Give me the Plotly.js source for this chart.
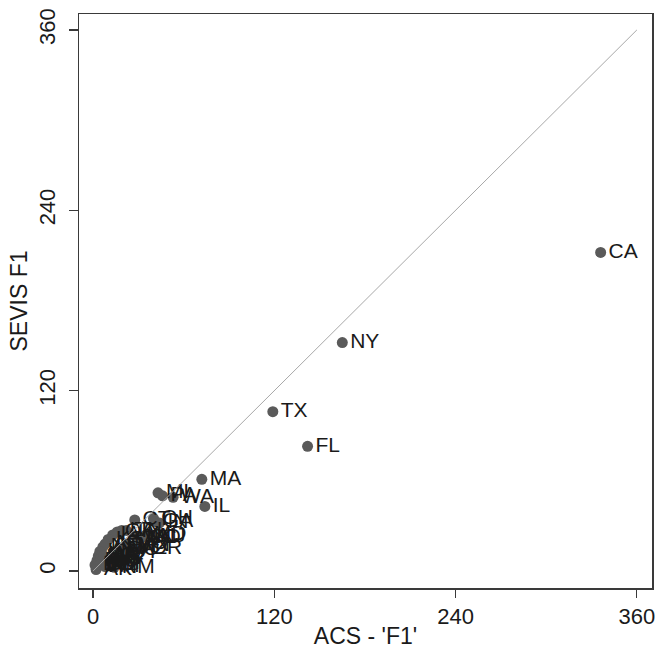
<!DOCTYPE html>
<html>
<head>
<meta charset="utf-8">
<script src="https://cdn.plot.ly/plotly-3.0.1.min.js"></script>
<style>html,body{margin:0;padding:0;background:#fff;}#chart{width:659px;height:654px;}</style>
</head>
<body>
<div id="chart"></div>
<script>
// State labels, ACS 'F1' count (thousands) and SEVIS F1 count (thousands)
var states = ["CA","NY","FL","TX","IL","MA","WA","PA","MI","OH","GA","IN","NJ","MD","CO","VA","NC","AZ","OR","MN","WI","MO","UT","NM",
              "CT","IA","KS","OK","NE","LA","AL","TN","KY","SC","RI","DE","NH","VT","ME","WV","MS","AR","ID","NV","MT","WY","ND","SD","HI","AK","DC"];
var acs   = [336,165,142,119,74,72,53,46,43,40,41,44,39,35,32,28,30,26,33,24,20,22,20,14,
             27.6,13,10,16,6.5,19,8,22,4.5,3.5,2.6,1.3,5,2,3,6,5,7,4,10,8,3,6,4,12,2,18];
var sevis = [212,152,83,106,43,61,49,50,52,35,33,32,23,24,22,23,22,15,15,17,16,18,12,2.5,
             34,24,21,26,16,27,18,27,13,10,7,4,9,3,4,11,8,10,6,8,3,5,7,4,5,1,14];
var refX = [0,360];
var refY = [0,360];
var xTicks = [0,120,240,360];
var yTicks = [0,120,240,360];

var font = "Liberation Sans, Arial, sans-serif";
var traces = [
  {
    x: acs, y: sevis, text: states, type: "scatter", mode: "markers+text",
    textposition: "middle right",
    marker: {color: "#5a5a5a", size: 11},
    textfont: {family: font, size: 21, color: "#1a1a1a"},
    hoverinfo: "none", cliponaxis: false
  },
  {
    x: refX, y: refY, type: "scatter", mode: "lines",
    line: {color: "#a8a8a8", width: 1}, hoverinfo: "none"
  }
];
var layout = {
  width: 659, height: 654,
  margin: {l: 79, r: 7, t: 14, b: 66},
  paper_bgcolor: "#fff", plot_bgcolor: "#fff",
  showlegend: false,
  font: {family: font, size: 22, color: "#1a1a1a"},
  xaxis: {
    range: [-9.3, 370], tickvals: xTicks, ticktext: xTicks.map(String),
    showgrid: false, zeroline: false, showline: true, mirror: true,
    linecolor: "#3a3a3a", linewidth: 1.5,
    ticks: "outside", ticklen: 8, tickwidth: 1.2, tickcolor: "#3a3a3a",
    tickfont: {family: font, size: 22, color: "#1a1a1a"},
    title: {text: "ACS - 'F1'", font: {family: font, size: 23, color: "#1a1a1a"}, standoff: 0}
  },
  yaxis: {
    range: [-11.3, 370.6], tickvals: yTicks, ticktext: yTicks.map(String),
    showgrid: false, zeroline: false, showline: true, mirror: true,
    linecolor: "#3a3a3a", linewidth: 1.5,
    ticks: "outside", ticklen: 9, tickwidth: 1.2, tickcolor: "#3a3a3a",
    tickangle: -90, ticklabelstandoff: 5,
    tickfont: {family: font, size: 22, color: "#1a1a1a"},
    title: {text: "SEVIS F1", font: {family: font, size: 23, color: "#1a1a1a"}, standoff: 0}
  }
};
Plotly.newPlot("chart", traces, layout, {displayModeBar: false, staticPlot: true});
</script>
</body>
</html>
